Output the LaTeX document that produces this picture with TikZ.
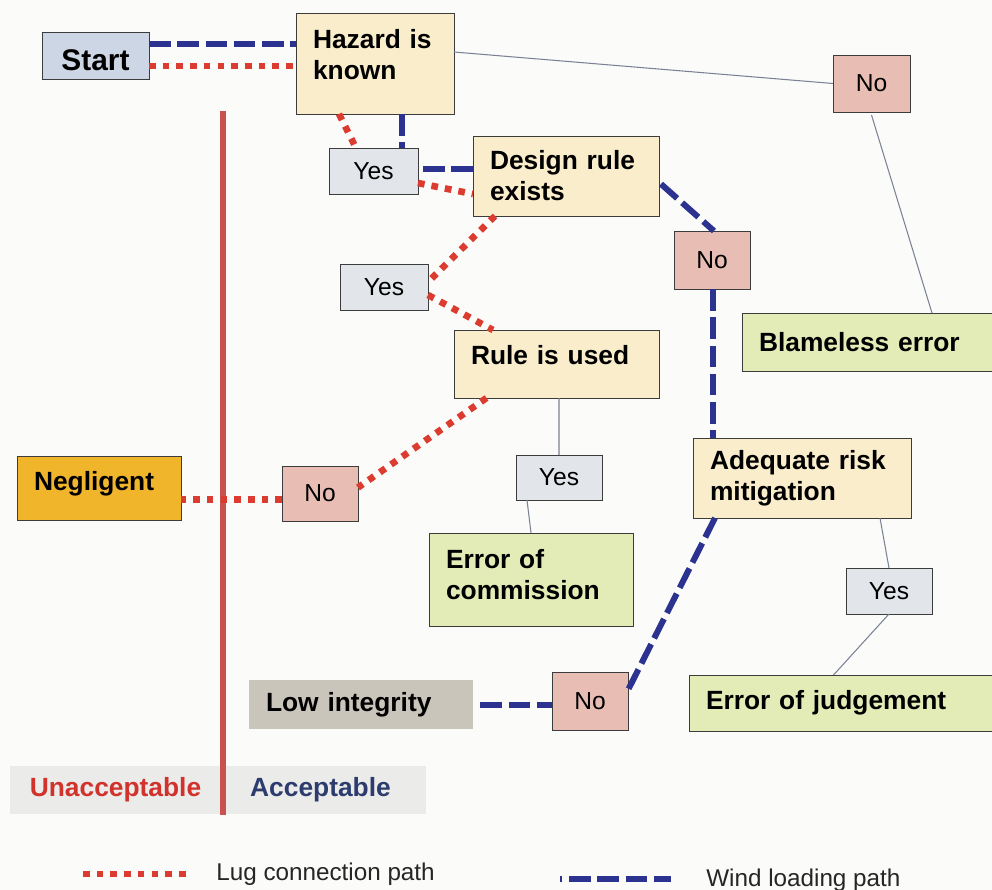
\documentclass[tikz,border=0pt]{standalone}
\usepackage{fontspec}
\setmainfont{Liberation Sans}
\usetikzlibrary{calc}
\definecolor{bgc}{HTML}{FBFBF9}
\definecolor{cream}{HTML}{FAEDCC}
\definecolor{startc}{HTML}{CDD6E4}
\definecolor{yesc}{HTML}{E2E5EA}
\definecolor{noc}{HTML}{E8BEB4}
\definecolor{greenc}{HTML}{E3ECB6}
\definecolor{neglc}{HTML}{F1B52C}
\definecolor{lowc}{HTML}{CAC5BB}
\definecolor{bandc}{HTML}{EBEBEA}
\definecolor{bordc}{HTML}{3C3C3C}
\definecolor{divc}{HTML}{C8534E}
\definecolor{lugc}{HTML}{DC3B30}
\definecolor{windc}{HTML}{2B3290}
\definecolor{thinc}{HTML}{7A8296}
\definecolor{unaccc}{HTML}{D2322C}
\definecolor{accc}{HTML}{2D3C6E}
\tikzset{
  bx/.style={draw=bordc, line width=0.5pt, outer sep=0pt},
  dec/.style={bx, fill=cream, font=\fontsize{15}{17.6}\selectfont\bfseries, align=left, inner xsep=0.34cm, inner ysep=0pt},
  outc/.style={dec, fill=greenc},
  ansbox/.style={bx, font=\fontsize{14}{16}\selectfont, inner sep=0pt},
  yesbox/.style={ansbox, fill=yesc, minimum width=1.74cm, minimum height=0.92cm},
  nobox/.style={ansbox, fill=noc, minimum width=1.52cm, minimum height=1.16cm},
  lug/.style={draw=lugc, line width=3.8pt, dash pattern=on 3.8pt off 4pt},
  wind/.style={draw=windc, line width=3.4pt, dash pattern=on 12.3pt off 3.8pt},
  thinlink/.style={draw=thinc, line width=0.6pt},
  legtext/.style={font=\fontsize{13.8}{16}\selectfont, text=black!85, anchor=west, inner sep=0pt},
}
\begin{document}
\begin{tikzpicture}[x=0.02cm, y=-0.02cm]
\path[use as bounding box, fill=bgc] (0,0) rectangle (992,890);

% acceptable / unacceptable band and divider
\node[fill=bandc, minimum width=8.32cm, minimum height=0.96cm, inner sep=0pt] (band) at (218,790) {};
\node[font=\fontsize{15}{17}\selectfont\bfseries, text=unaccc, inner sep=0pt] (unacc) at (115.5,790) {Unacceptable};
\node[font=\fontsize{15}{17}\selectfont\bfseries, text=accc, inner sep=0pt] (acc) at (320.5,790) {Acceptable};
\coordinate (divtop) at (223,111);
\coordinate (divbot) at (223,815);
\draw[divc, line width=3.6pt] (divtop) -- (divbot);

% nodes
\node[bx, fill=startc, font=\fontsize{17}{20}\selectfont\bfseries, inner sep=0pt, text height=17pt, text depth=0pt, minimum width=2.14cm, minimum height=0.94cm] (start) at (95.5,55.5) {Start};
\node[dec, text width=2.48cm, text depth=27.6pt, minimum width=3.16cm, minimum height=2.02cm] (haz) at (375,63.5) {Hazard is\\known};
\node[yesbox, minimum width=1.78cm] (yes1) at (373.5,171) {Yes};
\node[dec, text width=3.04cm, minimum width=3.72cm, minimum height=1.6cm] (design) at (566,176) {Design rule\\exists};
\node[nobox, minimum width=1.54cm, minimum height=1.14cm] (noA) at (871.5,83.5) {No};
\node[nobox] (noB) at (712,260) {No};
\node[yesbox, minimum width=1.76cm] (yes2) at (384,287) {Yes};
\node[outc, text width=4.4cm, minimum width=5.08cm, minimum height=1.16cm] (blame) at (869,342) {Blameless error};
\node[dec, text width=3.42cm, text depth=10pt, minimum width=4.1cm, minimum height=1.36cm] (rule) at (556.5,364) {Rule is used};
\node[bx, fill=neglc, font=\fontsize{15}{17.6}\selectfont\bfseries, align=left, inner xsep=0.34cm, inner ysep=0pt, text width=2.6cm, text depth=8.2pt, minimum width=3.28cm, minimum height=1.28cm] (negl) at (99,488) {Negligent};
\node[nobox, minimum height=1.1cm] (noC) at (320,493.5) {No};
\node[yesbox, minimum width=1.72cm, minimum height=0.9cm] (yes3) at (559,477.5) {Yes};
\node[outc, text width=3.4cm, text depth=23.6pt, minimum width=4.08cm, minimum height=1.86cm] (comm) at (531,579.5) {Error of\\commission};
\node[dec, text width=3.68cm, minimum width=4.36cm, minimum height=1.6cm] (adeq) at (802,478) {Adequate risk\\mitigation};
\node[yesbox, minimum width=1.72cm] (yes4) at (889,591) {Yes};
\node[fill=lowc, font=\fontsize{15}{17.6}\selectfont\bfseries, align=left, inner xsep=0.34cm, inner ysep=0pt, text width=3.8cm, minimum width=4.48cm, minimum height=0.98cm] (lowint) at (361,704.5) {Low integrity};
\node[nobox] (noD) at (590,701) {No};
\node[outc, text width=5.46cm, minimum width=6.14cm, minimum height=1.12cm] (judg) at (842.5,703) {Error of judgement};

% connectors
\draw[wind] ($(start.east)+(0,-11.5)$) coordinate (s1) -- (s1 -| haz.west);
\draw[lug] ($(start.east)+(0,10.5)$) coordinate (s2) -- (s2 -| haz.west);
\draw[lug] ($(haz.south)+(-36,0)$) -- ($(yes1.north)+(-17.5,0)$);
\draw[wind] ($(haz.south)+(27,0)$) coordinate (h1) -- (h1 |- yes1.north);
\draw[wind] ($(yes1.east)+(5,-2)$) coordinate (y1) -- (y1 -| design.west);
\draw[lug] ($(yes1.east)+(0,12)$) -- ($(design.west)+(0,18)$);
\draw[thinlink] ($(haz.east)+(0,-11.5)$) -- (noA.west);
\draw[thinlink] ($(noA.south)+(0,3)$) -- ($(blame.north)+(63,0)$);
\draw[wind] ($(design.east)+(2,8)$) -- ($(noB.north)+(2,0)$);
\draw[wind] ($(noB.south)+(1,0)$) coordinate (n1) -- (n1 |- adeq.north);
\draw[lug] ($(design.south west)+(22,0)$) -- ($(yes2.east)+(0,-5)$);
\draw[lug] ($(yes2.east)+(0,8)$) -- ($(rule.north)+(-63.5,0)$);
\draw[lug] ($(rule.south)+(-70,0)$) -- ($(noC.east)+(0,-6)$);
\draw[lug] ($(noC.west)+(0,6)$) coordinate (c1) -- (c1 -| negl.east);
\draw[thinlink] ($(rule.south)+(2.5,0)$) -- (yes3.north);
\draw[thinlink] ($(yes3.south)+(-32,0)$) -- (comm.north);
\draw[wind] ($(adeq.south west)+(22,0)$) -- ($(noD.east)+(0,-11)$);
\draw[wind] ($(lowint.east)+(7,0.5)$) coordinate (l1) -- (l1 -| noD.west);
\draw[thinlink] ($(adeq.south)+(78,0)$) -- (yes4.north);
\draw[thinlink] (yes4.south) -- ($(judg.north)+(-9,0)$);

% legend
\coordinate (lugA) at (83,874);
\coordinate (lugB) at (190,874);
\draw[lug] (lugA) -- (lugB);
\node[legtext] (lugtxt) at (216,874) {Lug connection path};
\coordinate (windA) at (560,879);
\coordinate (windB) at (671,879);
\draw[wind, dash pattern=on 1.2pt off 4pt on 12.3pt off 3.8pt on 12.3pt off 3.8pt on 12.3pt off 3.8pt on 12.3pt off 3.8pt] (windA) -- (windB);
\node[legtext] (windtxt) at (706,880) {Wind loading path};
\end{tikzpicture}
\end{document}
